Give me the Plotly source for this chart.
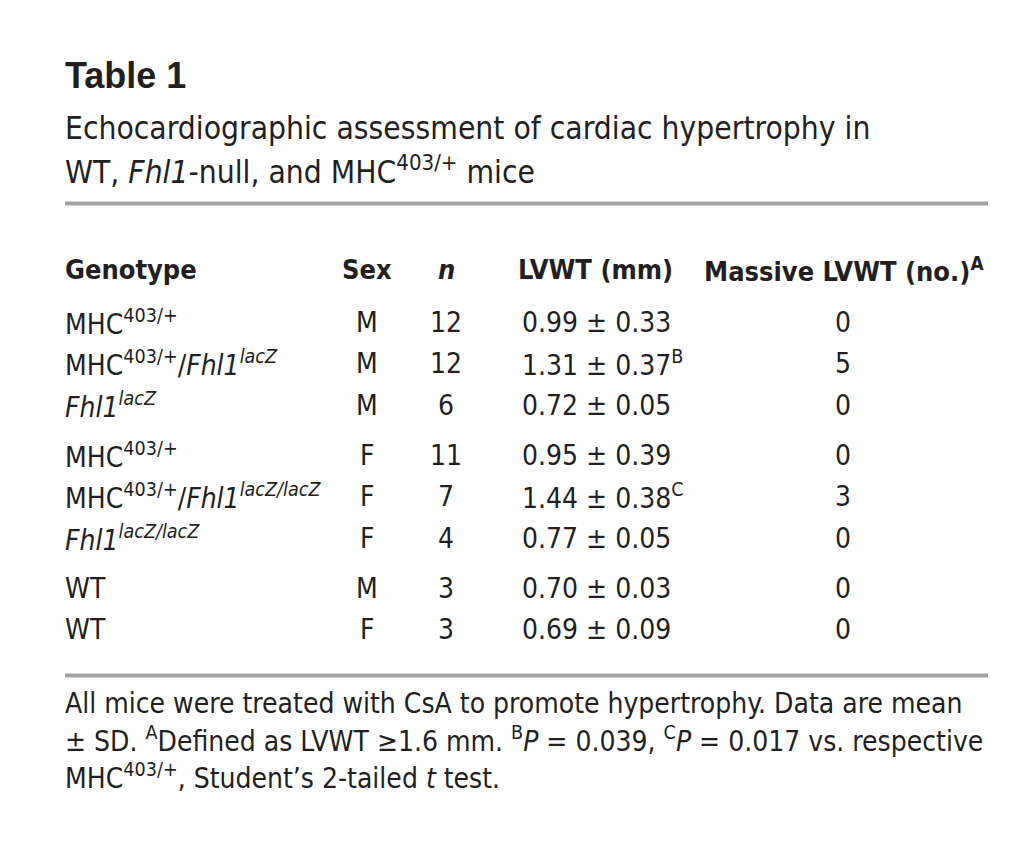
import plotly.graph_objects as go

# ---------------- data ----------------
title = "Table 1"
subtitle_lines = [
    "Echocardiographic assessment of cardiac hypertrophy in",
    "WT, <i>Fhl1</i>-null, and MHC<sup>403/+</sup> mice",
]
headers = ["Genotype", "Sex", "<i>n</i>", "LVWT (mm)", "Massive LVWT (no.)<sup>A</sup>"]
genotypes = [
    "MHC<sup>403/+</sup>",
    "MHC<sup>403/+</sup>/<i>Fhl1<sup>lacZ</sup></i>",
    "<i>Fhl1<sup>lacZ</sup></i>",
    "MHC<sup>403/+</sup>",
    "MHC<sup>403/+</sup>/<i>Fhl1<sup>lacZ/lacZ</sup></i>",
    "<i>Fhl1<sup>lacZ/lacZ</sup></i>",
    "WT",
    "WT",
]
sex = ["M", "M", "M", "F", "F", "F", "M", "F"]
n_mice = [12, 12, 6, 11, 7, 4, 3, 3]
lvwt_mean = [0.99, 1.31, 0.72, 0.95, 1.44, 0.77, 0.70, 0.69]
lvwt_sd = [0.33, 0.37, 0.05, 0.39, 0.38, 0.05, 0.03, 0.09]
lvwt_mark = ["", "B", "", "", "C", "", "", ""]
massive = [0, 5, 0, 0, 3, 0, 0, 0]
group = [0, 0, 0, 1, 1, 1, 2, 2]
footnote_lines = [
    "All mice were treated with CsA to promote hypertrophy. Data are mean",
    "± SD. <sup>A</sup>Defined as LVWT ≥1.6 mm. <sup>B</sup><i>P</i> = 0.039, <sup>C</sup><i>P</i> = 0.017 vs. respective",
    "MHC<sup>403/+</sup>, Student’s 2-tailed <i>t</i> test.",
]

# ---------------- layout ----------------
W, H = 1026, 847
OFF = 8  # page body margin compensation
COND = "Liberation Sans Narrow, DejaVu Sans Condensed, Roboto Condensed, Arial Narrow, sans-serif"
REG = "Liberation Sans, Arial, Helvetica, sans-serif"
INK = "#231f20"
RULE = "#a3a3a3"

fig = go.Figure()
ann = []

def add(x, y, text, size, family=COND, xanchor="left", bold=False):
    if bold:
        text = "<b>" + text + "</b>"
    ann.append(dict(x=x, y=y, xref="x", yref="y", text=text, showarrow=False,
                    xanchor=xanchor, yanchor="middle",
                    align=xanchor if xanchor != "center" else "center",
                    font=dict(family=family, size=size, color=INK)))

add(63, 75, title, 36, family=REG, bold=True)
for i, line in enumerate(subtitle_lines):
    add(63, 128 + i * 42, line, 31.5)

# header
hy = 269
HS = 27
add(63, hy, headers[0], HS, bold=True)
add(367, hy, headers[1], HS, xanchor="center", bold=True)
add(446, hy, headers[2], HS, xanchor="center", bold=True)
add(516, hy, headers[3], HS, bold=True)
add(844, hy, headers[4], HS, xanchor="center", bold=True)

row_y = []
for i in range(len(genotypes)):
    row_y.append(322 + i * 41.5 + group[i] * 8.5)

BS = 28
for i, g in enumerate(genotypes):
    y = row_y[i]
    add(63, y, g, BS)
    add(367, y, sex[i], BS, xanchor="center")
    add(446, y, str(n_mice[i]), BS, xanchor="center")
    txt = f"{lvwt_mean[i]:.2f} ± {lvwt_sd[i]:.2f}"
    if lvwt_mark[i]:
        txt += f"<sup>{lvwt_mark[i]}</sup>"
    add(520, y, txt, BS)
    add(843, y, str(massive[i]), BS, xanchor="center")

for i, line in enumerate(footnote_lines):
    add(63, 703 + i * 36.5, line, 28)

shapes = [
    dict(type="line", xref="x", yref="y", x0=65, x1=988, y0=203.5, y1=203.5,
         line=dict(color=RULE, width=4)),
    dict(type="line", xref="x", yref="y", x0=65, x1=988, y0=675.5, y1=675.5,
         line=dict(color=RULE, width=4)),
]

fig.update_layout(
    width=W, height=H, margin=dict(l=0, r=0, t=0, b=0),
    paper_bgcolor="white", plot_bgcolor="white",
    xaxis=dict(range=[OFF, W + OFF], visible=False, fixedrange=True),
    yaxis=dict(range=[H + OFF, OFF], visible=False, fixedrange=True),
    annotations=ann, shapes=shapes, showlegend=False,
)
fig.write_html("out.html")
